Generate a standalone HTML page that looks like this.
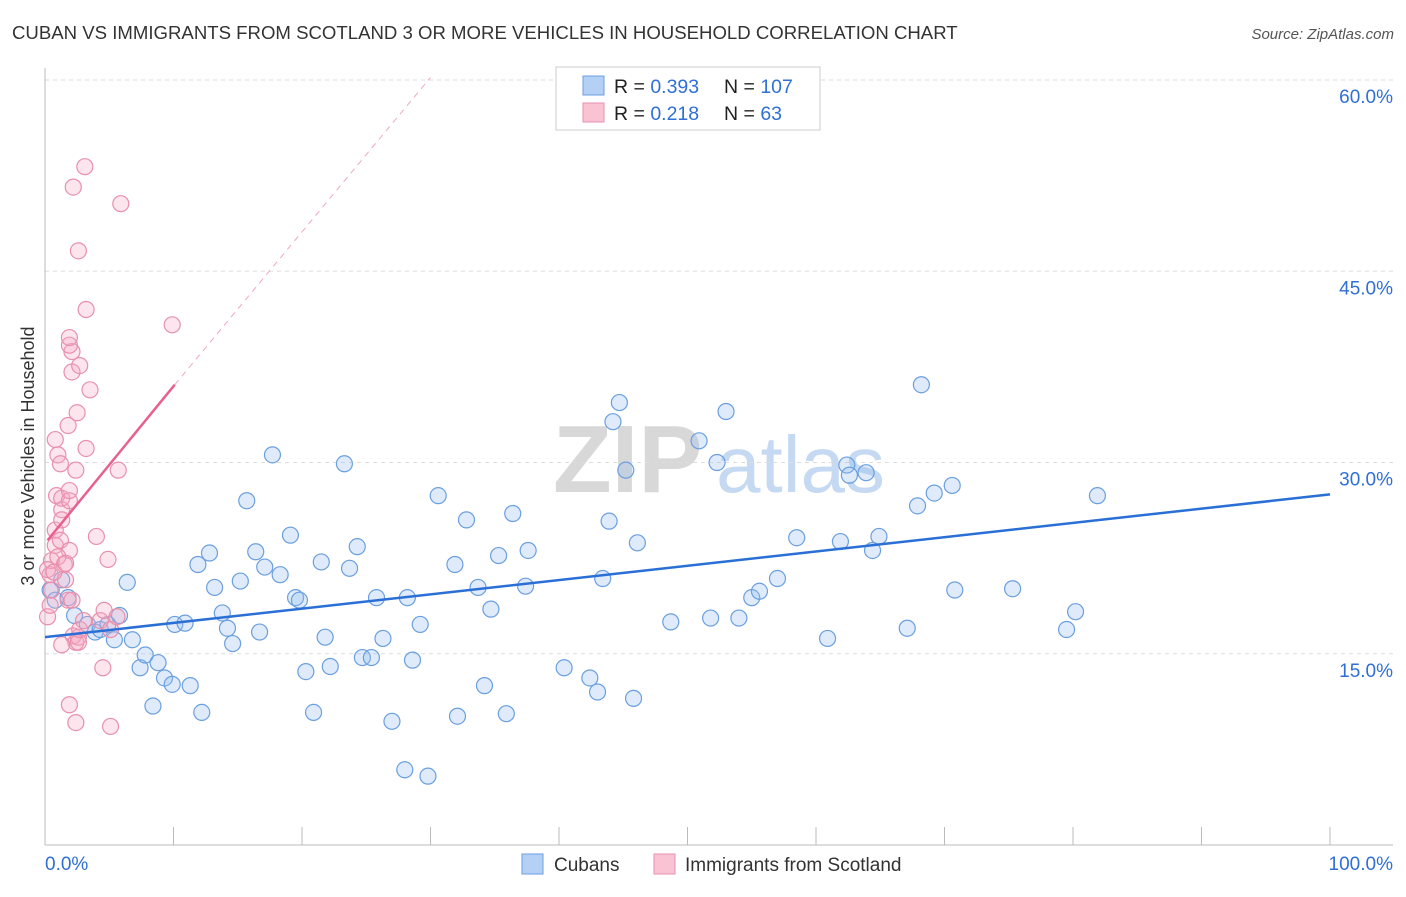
<!DOCTYPE html>
<html><head><meta charset="utf-8"><style>
body{margin:0;background:#fff;font-family:"Liberation Sans",sans-serif}
svg text{font-family:"Liberation Sans",sans-serif}
</style></head><body>
<svg id="chart" width="1406" height="892" xmlns="http://www.w3.org/2000/svg">
<text x="12" y="39" font-size="18.6" fill="#333">CUBAN VS IMMIGRANTS FROM SCOTLAND 3 OR MORE VEHICLES IN HOUSEHOLD CORRELATION CHART</text>
<text x="1394" y="39" font-size="15" fill="#555" font-style="italic" text-anchor="end">Source: ZipAtlas.com</text>
<g>
<text x="553" y="492" font-size="96" font-family="Liberation Serif" fill="#d8d8d8" font-weight="bold">ZIP</text>
<text x="716" y="492" font-size="80" fill="#c5d9f2">atlas</text>
</g>
<g id="grid"></g>
<g id="axes"></g>
<g id="marks"></g>
<g>
<rect x="556" y="67" width="264" height="63" fill="#fff" stroke="#ccc"/>
<rect x="583" y="76" width="21" height="19" fill="#b4d0f4" stroke="#6a9fe0"/>
<rect x="583" y="103" width="21" height="19" fill="#f9c3d3" stroke="#e890ad"/>
<text x="614" y="93" font-size="19.5" fill="#222">R = <tspan fill="#2f6fd6">0.393</tspan></text>
<text x="724" y="93" font-size="19.5" fill="#222">N = <tspan fill="#2f6fd6">107</tspan></text>
<text x="614" y="120" font-size="19.5" fill="#222">R = <tspan fill="#2f6fd6"> 0.218</tspan></text>
<text x="724" y="120" font-size="19.5" fill="#222">N = <tspan fill="#2f6fd6">  63</tspan></text>
</g>
<g>
<rect x="522" y="854" width="21" height="20" fill="#b4d0f4" stroke="#6a9fe0"/>
<text x="554" y="871" font-size="19" fill="#333">Cubans</text>
<rect x="654" y="854" width="21" height="20" fill="#f9c3d3" stroke="#e890ad"/>
<text x="685" y="871" font-size="19" fill="#333">Immigrants from Scotland</text>
</g>
<text transform="translate(34,456) rotate(-90)" text-anchor="middle" font-size="18" fill="#333">3 or more Vehicles in Household</text>
</svg>
<script>
const yTicks=[15,30,45,60];
const yTickLabels=["15.0%","30.0%","45.0%","60.0%"];
const xTicks=[0,10,20,30,40,50,60,70,80,90,100];
const cubanX=[0.4,0.8,1.3,1.8,2.3,3.3,3.9,4.3,4.9,5.4,5.8,6.4,6.8,7.4,7.8,8.4,8.8,9.3,9.9,10.1,10.9,11.3,11.9,12.2,12.8,13.2,13.8,14.2,14.6,15.2,15.7,16.4,16.7,17.1,18.3,17.7,19.1,19.5,19.8,20.3,20.9,21.5,21.8,22.2,23.3,23.7,24.3,24.7,25.4,25.8,26.3,27.0,28.0,28.2,28.6,29.2,29.8,30.6,31.9,32.1,32.8,33.7,34.2,34.7,35.3,35.9,36.4,37.6,37.4,40.4,42.4,43.0,43.4,43.9,44.2,44.7,45.2,45.8,46.1,48.7,50.9,51.8,52.3,53.0,54.0,55.0,55.6,57.0,58.5,60.9,61.9,62.4,62.6,63.9,64.4,64.9,67.1,67.9,68.2,69.2,70.6,70.8,75.3,79.5,80.2,81.9];
const cubanY=[20.0,19.2,20.8,19.4,18.0,17.3,16.7,16.9,17.3,16.1,18.0,20.6,16.1,13.9,14.9,10.9,14.3,13.1,12.6,17.3,17.4,12.5,22.0,10.4,22.9,20.2,18.2,17.0,15.8,20.7,27.0,23.0,16.7,21.8,21.2,30.6,24.3,19.4,19.2,13.6,10.4,22.2,16.3,14.0,29.9,21.7,23.4,14.7,14.7,19.4,16.2,9.7,5.9,19.4,14.5,17.3,5.4,27.4,22.0,10.1,25.5,20.2,12.5,18.5,22.7,10.3,26.0,23.1,20.3,13.9,13.1,12.0,20.9,25.4,33.2,34.7,29.4,11.5,23.7,17.5,31.7,17.8,30.0,34.0,17.8,19.4,19.9,20.9,24.1,16.2,23.8,29.8,29.0,29.2,23.1,24.2,17.0,26.6,36.1,27.6,28.2,20.0,20.1,16.9,18.3,27.4];
const scotX=[0.2,0.4,0.5,0.4,0.5,0.8,0.8,0.9,0.8,1.0,1.2,1.3,1.3,1.3,1.2,1.5,1.6,1.8,1.9,1.9,1.8,1.9,2.1,2.1,2.1,1.9,1.9,2.2,2.2,2.4,2.4,2.5,2.4,2.6,2.6,2.7,2.7,3.0,3.1,3.2,3.2,3.5,4.0,4.3,4.5,4.6,4.9,5.1,5.1,5.6,5.7,5.9,9.9,2.6,1.9,1.0,0.2,0.7,1.6,1.3];
const scotY=[17.9,18.8,20.0,21.2,22.3,23.5,24.7,27.4,31.8,30.6,29.9,26.3,27.2,25.5,23.9,22.0,20.8,32.9,23.1,27.0,19.2,27.8,19.2,37.1,38.7,39.2,39.8,51.6,16.4,15.9,9.6,33.9,29.4,16.3,15.9,16.9,37.6,17.6,53.2,31.1,42.0,35.7,24.2,17.6,13.9,18.4,22.4,9.3,16.9,17.9,29.4,50.3,40.8,46.6,11.0,22.6,21.6,21.4,22.1,15.7];
const blueTrend=[[0,16.3],[100,27.5]];
const pinkTrend=[[0.2,23.9],[10.1,36.1]];
const pinkDash=[[10.1,36.1],[30.0,60.2]];

const X0=45,X1=1330,Y0=845,PXY=12.75;
const sx=v=>X0+(X1-X0)*v/100;
const sy=v=>Y0-v*PXY;
const NS="http://www.w3.org/2000/svg";
function mk(tag,attrs,parent){const e=document.createElementNS(NS,tag);for(const k in attrs)e.setAttribute(k,attrs[k]);parent.appendChild(e);return e;}
const grid=document.getElementById('grid'),axes=document.getElementById('axes'),marks=document.getElementById('marks');
yTicks.forEach((t,i)=>{
  const l=mk('line',{x1:X0,x2:1393,y1:sy(t),y2:sy(t),stroke:'#ddd','stroke-dasharray':'4,4'},grid);
  
  
  const tx=mk('text',{x:1393,y:sy(t)+23,'font-size':19,fill:'#2f6fd6','text-anchor':'end'},axes);
  tx.textContent=yTickLabels[i];
  
  
});
let a=mk('line',{x1:X0,x2:X0,y1:68,y2:Y0,stroke:'#bbb'},axes);


a=mk('line',{x1:X0,x2:1393,y1:Y0,y2:Y0,stroke:'#bbb'},axes);


xTicks.forEach(t=>{
  const l=mk('line',{x1:sx(t),x2:sx(t),y1:Y0-18,y2:Y0,stroke:'#bbb'},axes);
  
  
});
let t0=mk('text',{x:45,y:870,'font-size':19,fill:'#2f6fd6'},axes);t0.textContent='0.0%';


let t1=mk('text',{x:1393,y:870,'font-size':19,fill:'#2f6fd6','text-anchor':'end'},axes);t1.textContent='100.0%';


cubanX.forEach((x,i)=>{
  const c=mk('circle',{cx:sx(x),cy:sy(cubanY[i]),r:8,fill:'rgba(150,190,240,0.3)',stroke:'#6a9fe0','stroke-width':1.2},marks);
  
  
});
scotX.forEach((x,i)=>{
  const c=mk('circle',{cx:sx(x),cy:sy(scotY[i]),r:8,fill:'rgba(245,170,195,0.3)',stroke:'#e890ad','stroke-width':1.2},marks);
  
  
});
let b=mk('line',{x1:sx(blueTrend[0][0]),y1:sy(blueTrend[0][1]),x2:sx(blueTrend[1][0]),y2:sy(blueTrend[1][1]),stroke:'#2a6fd6','stroke-width':2.5},marks);


let p=mk('line',{x1:sx(pinkTrend[0][0]),y1:sy(pinkTrend[0][1]),x2:sx(pinkTrend[1][0]),y2:sy(pinkTrend[1][1]),stroke:'#e8608c','stroke-width':2.5},marks);


let d=mk('line',{x1:sx(pinkDash[0][0]),y1:sy(pinkDash[0][1]),x2:sx(pinkDash[1][0]),y2:sy(pinkDash[1][1]),stroke:'#f0a8c0','stroke-width':1,'stroke-dasharray':'6,5'},marks);


</script>
</body></html>
